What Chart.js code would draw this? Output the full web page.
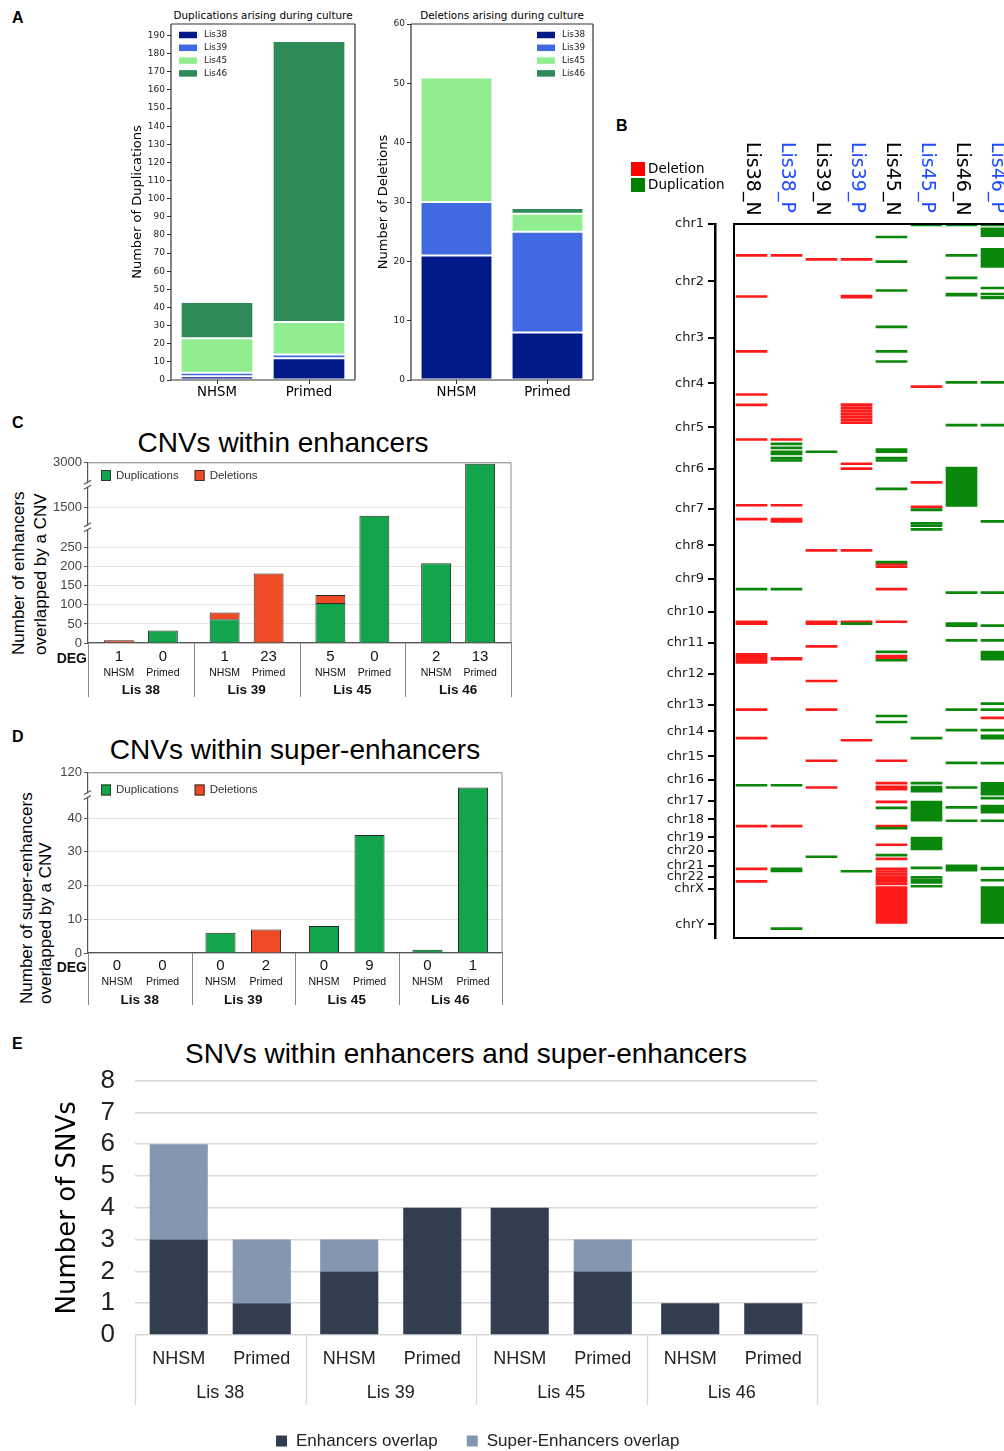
<!DOCTYPE html>
<html><head><meta charset="utf-8"><title>CNVs and SNVs</title>
<script src="https://cdn.jsdelivr.net/npm/chart.js@4.4.1/dist/chart.umd.min.js"></script>
<style>
html,body{margin:0;padding:0;background:#fff;width:1004px;height:1451px;overflow:hidden;position:relative;}
canvas{position:absolute;}
.t{position:absolute;white-space:nowrap;line-height:1;transform:translate(-50%,-50%);color:#000;}
.p{position:absolute;font:bold 16px 'Liberation Sans',Arial,sans-serif;line-height:1;color:#000;}
.vt{position:absolute;writing-mode:vertical-rl;transform:rotate(180deg);font:17px 'Liberation Sans',Arial,sans-serif;white-space:nowrap;text-align:start;color:#000;}
</style></head><body>
<div class="p" style="left:12px;top:10px">A</div>
<div class="p" style="left:616px;top:118px">B</div>
<div class="p" style="left:12px;top:415px">C</div>
<div class="p" style="left:12px;top:729px">D</div>
<div class="p" style="left:12px;top:1036px">E</div>
<div class="t" style="left:263px;top:15px;font:10.4px 'DejaVu Sans'">Duplications arising during culture</div>
<div class="t" style="left:502px;top:15px;font:10.4px 'DejaVu Sans'">Deletions arising during culture</div>
<div class="t" style="left:283px;top:443px;font:28px 'Liberation Sans'">CNVs within enhancers</div>
<div class="t" style="left:295px;top:750px;font:28px 'Liberation Sans'">CNVs within super-enhancers</div>
<div class="t" style="left:466px;top:1054px;font:28px 'Liberation Sans'">SNVs within enhancers and super-enhancers</div>
<div class="vt" style="left:8px;top:453px;height:202px;line-height:22px;">Number of enhancers<br>overlapped by a CNV</div>
<div class="vt" style="left:17px;top:777px;height:227px;line-height:19px;">Number of super-enhancers<br>overlapped by a CNV</div>
<canvas id="a1" width="250" height="400" style="left:120px;top:0px"></canvas>
<canvas id="a2" width="240" height="400" style="left:370px;top:0px"></canvas>
<canvas id="b" width="400" height="820" style="left:620px;top:130px"></canvas>
<canvas id="c" width="520" height="252" style="left:0px;top:453px"></canvas>
<canvas id="d" width="510" height="252" style="left:0px;top:763px"></canvas>
<canvas id="e" width="790" height="386" style="left:40px;top:1065px"></canvas>
<script>
// ================= DATA =================
// Panel A
const aCats = ['NHSM', 'Primed'];
const aLines = ['Lis38', 'Lis39', 'Lis45', 'Lis46'];
const dupLis38 = [2, 12];
const dupLis39 = [2, 2];
const dupLis45 = [19, 18];
const dupLis46 = [20, 155];
const delLis38 = [21, 8];
const delLis39 = [9, 17];
const delLis45 = [21, 3];
const delLis46 = [0, 1];
const aDupTicks = [0, 10, 20, 30, 40, 50, 60, 70, 80, 90, 100, 110, 120, 130, 140, 150, 160, 170, 180, 190];
const aDelTicks = [0, 10, 20, 30, 40, 50, 60];

// Panel B (positions in Mb along the concatenated genome; a number = small CNV, a pair = long CNV)
const cnvColumns = ['Lis38_N', 'Lis38_P', 'Lis39_N', 'Lis39_P', 'Lis45_N', 'Lis45_P', 'Lis46_N', 'Lis46_P'];
const chromNames = ['chr1','chr2','chr3','chr4','chr5','chr6','chr7','chr8','chr9','chr10','chr11','chr12','chr13','chr14','chr15','chr16','chr17','chr18','chr19','chr20','chr21','chr22','chrX','chrY'];
const chromStarts = [0, 249.3, 492.5, 690.5, 881.7, 1062.6, 1233.7, 1392.9, 1539.3, 1680.5, 1816.0, 1951.0, 2084.9, 2200.1, 2307.5, 2410.0, 2500.4, 2581.6, 2659.6, 2718.7, 2781.7, 2829.8, 2881.1, 3036.4];
const genomeEnd = 3095.7;
const lis38N_del = [133, 311, 549, 736, 781, 931, 1216, 1276, 1721, 1729, 1862, 1871, 1879, 1888, 1897, 2102, 2226, 2607, 2793, 2847];
const lis38N_dup = [1580, 2430];
const lis38P_del = [133, 931, 1216, 1276, 1286, [1879, 1891], 2607];
const lis38P_dup = [950, 967, 984, 993, 1012, 1022, 1580, 2430, 2793, 2802, 3052];
const lis39N_del = [150, 1412, 1721, 1729, 1828, 1978, 2102, 2324, 2440];
const lis39N_dup = [984, 2740];
const lis39P_del = [150, [308, 322], 780, 793, 806, 819, 832, 845, 858, 1036, 1057, 1412, 1721, 2235];
const lis39P_dup = [1729, 2803];
const lis45N_del = [1471, 1482, 1580, 1721, 1870, 1880, 2324, 2421, 2437, 2447, 2502, 2607, 2688, 2749, 2793, 2804, 2815, 2826, 2837, 2847, 2858, [2873, 3032]];
const lis45N_dup = [53, 160, 285, 443, 549, 593, 975, 984, 1012, 1022, 1145, 1463, 1852, 1888, 2130, 2156, 2528, 2616, 2733];
const lis45P_del = [702, 1117, 1223];
const lis45P_dup = [[0, 4], [1234, 1244], 1295, 1305, 1321, 2226, 2421, 2438, 2448, 2456, [2502, 2589], [2658, 2714], 2788, 2829, 2840, 2851, 2868];
const lis46N_del = [];
const lis46N_dup = [[0, 4], 133, 230, [299, 313], 683, 869, [1054, 1224], 1595, 1729, 1738, 1802, 2102, 2191, 2333, 2440, 2526, 2584, 2779, 2788, 2798];
const lis46P_del = [2138];
const lis46P_dup = [[0, 4], [17, 55], [105, 188], 274, [299, 306], [314, 325], 683, 869, 1286, 1595, 1738, 1802, [1852, 1891], 2076, 2102, 2191, 2216, 2226, [2333, 2342], [2421, 2476], 2486, [2519, 2555], 2584, [2788, 2801], 2842, [2873, 3032]];
const cnvDel = [lis38N_del, lis38P_del, lis39N_del, lis39P_del, lis45N_del, lis45P_del, lis46N_del, lis46P_del];
const cnvDup = [lis38N_dup, lis38P_dup, lis39N_dup, lis39P_dup, lis45N_dup, lis45P_dup, lis46N_dup, lis46P_dup];

// Panel C
const lisGroups = ['Lis 38', 'Lis 39', 'Lis 45', 'Lis 46'];
const cDupNHSM = [0, 62, 105, 209];
const cDelNHSM = [7, 18, 21, 0];
const cDupPrimed = [33, 0, 1250, 2970];
const cDelPrimed = [0, 182, 0, 0];
const cDegNHSM = [1, 1, 5, 2];
const cDegPrimed = [0, 23, 0, 13];
const cTicks = [0, 50, 100, 150, 200, 250, 1500, 3000];

// Panel D
const dDupNHSM = [0, 6, 8, 1];
const dDelNHSM = [0, 0, 0, 0];
const dDupPrimed = [0, 0, 35, 94];
const dDelPrimed = [0, 7, 0, 0];
const dDegNHSM = [0, 0, 0, 0];
const dDegPrimed = [0, 2, 9, 1];
const dTicks = [0, 10, 20, 30, 40, 120];

// Panel E
const eEnhNHSM = [3, 2, 4, 1];
const eSupNHSM = [3, 1, 0, 0];
const eEnhPrimed = [1, 4, 2, 1];
const eSupPrimed = [2, 0, 1, 0];
const eTicks = [0, 1, 2, 3, 4, 5, 6, 7, 8];

// ================= HELPERS =================
const F_DV = "'DejaVu Sans', sans-serif";
const F_LS = "'Liberation Sans', Arial, sans-serif";
Chart.defaults.font.family = F_LS;

class BrokenScale extends Chart.LinearScale {
  static id = 'broken';
  static defaults = {};
  determineDataLimits() {
    const v = this.options.pieceValues;
    this.min = v[0];
    this.max = v[v.length - 1];
  }
  buildTicks() { return this.options.tickValues.map(value => ({ value })); }
  _toDecimal(value) {
    const v = this.options.pieceValues, f = this.options.pieceFracs;
    let i = 1;
    while (i < v.length - 1 && value > v[i]) i++;
    return f[i - 1] + (value - v[i - 1]) / (v[i] - v[i - 1]) * (f[i] - f[i - 1]);
  }
  getPixelForValue(value) {
    if (value === null || value === undefined || isNaN(value)) return NaN;
    return this.getPixelForDecimal(this._toDecimal(value));
  }
  getValueForPixel(pixel) {
    const d = this.getDecimalForPixel(pixel);
    const v = this.options.pieceValues, f = this.options.pieceFracs;
    let i = 1;
    while (i < f.length - 1 && d > f[i]) i++;
    return v[i - 1] + (d - f[i - 1]) / (f[i] - f[i - 1]) * (v[i] - v[i - 1]);
  }
}
Chart.register(BrokenScale);

const framePlugin = {
  id: 'frame',
  afterDraw(chart, args, o) {
    if (!o.color) return;
    const { ctx, chartArea: a } = chart;
    const s = o.sides;
    ctx.save();
    ctx.strokeStyle = o.color; ctx.lineWidth = o.width;
    ctx.beginPath();
    if (s.includes('top')) { ctx.moveTo(a.left, a.top); ctx.lineTo(a.right, a.top); }
    if (s.includes('right')) { ctx.moveTo(a.right, a.top); ctx.lineTo(a.right, a.bottom); }
    if (s.includes('bottom')) { ctx.moveTo(a.left, a.bottom); ctx.lineTo(a.right, a.bottom); }
    if (s.includes('left')) { ctx.moveTo(a.left, a.top); ctx.lineTo(a.left, a.bottom); }
    ctx.stroke();
    ctx.restore();
  }
};

const boxLegendPlugin = {
  id: 'boxLegend',
  afterDraw(chart, args, o) {
    if (!o.labels) return;
    const ctx = chart.ctx;
    ctx.save();
    ctx.font = o.font; ctx.textBaseline = 'middle'; ctx.textAlign = 'left';
    let x = o.x, y = o.y;
    o.labels.forEach((txt, i) => {
      ctx.fillStyle = o.colors[i];
      ctx.fillRect(x, y - o.h / 2, o.w, o.h);
      if (o.stroke) { ctx.strokeStyle = o.stroke; ctx.lineWidth = 1; ctx.strokeRect(x + 0.5, y - o.h / 2 + 0.5, o.w - 1, o.h - 1); }
      ctx.fillStyle = o.textColor || '#000';
      ctx.fillText(txt, x + o.w + o.gap, y);
      if (o.flow) x += o.w + o.gap + ctx.measureText(txt).width + o.sep; else y += o.dy;
    });
    ctx.restore();
  }
};

const groupLabelPlugin = {
  id: 'groupLabels',
  afterDraw(chart, args, o) {
    if (!o.subY) return;
    const { ctx, chartArea: a } = chart;
    const xs = chart.scales.x;
    const b = a.bottom;
    const n = chart.data.labels.length;
    ctx.save();
    ctx.strokeStyle = o.sepColor; ctx.lineWidth = o.sepWidth;
    for (let i = 0; i <= n; i++) {
      const x = Math.round(xs.getPixelForValue(i - 0.5)) + 0.5;
      ctx.beginPath(); ctx.moveTo(x, b); ctx.lineTo(x, b + o.sepLen); ctx.stroke();
    }
    ctx.fillStyle = o.color; ctx.textAlign = 'center'; ctx.textBaseline = 'middle';
    const metaN = chart.getDatasetMeta(o.nIdx), metaP = chart.getDatasetMeta(o.pIdx);
    const subN = chart.data.datasets[o.nIdx].stack, subP = chart.data.datasets[o.pIdx].stack;
    for (let g = 0; g < n; g++) {
      const xn = metaN.data[g].x, xp = metaP.data[g].x;
      if (o.degN) {
        ctx.font = o.degFont;
        ctx.fillText(String(o.degN[g]), xn, b + o.degY);
        ctx.fillText(String(o.degP[g]), xp, b + o.degY);
      }
      ctx.font = o.subFont;
      ctx.fillText(subN, xn, b + o.subY);
      ctx.fillText(subP, xp, b + o.subY);
      ctx.font = o.groupFont;
      ctx.fillText(chart.data.labels[g], xs.getPixelForValue(g), b + o.groupY);
    }
    if (o.degLabel) {
      ctx.font = o.degLabelFont; ctx.textAlign = 'right';
      ctx.fillText(o.degLabel, a.left - 1, b + o.degLabelY);
    }
    ctx.restore();
  }
};

const breakPlugin = {
  id: 'breaks',
  afterDraw(chart, args, o) {
    if (!o.between) return;
    const { ctx, chartArea: a } = chart;
    const ys = chart.scales.y, x = a.left;
    ctx.save();
    for (const pair of o.between) {
      const y = (ys.getPixelForValue(pair[0]) + ys.getPixelForValue(pair[1])) / 2;
      ctx.fillStyle = '#fff'; ctx.fillRect(x - 3, y - 2, 6, 4);
      ctx.strokeStyle = o.color; ctx.lineWidth = 1.2;
      ctx.beginPath();
      ctx.moveTo(x - 4, y - 1); ctx.lineTo(x + 3, y - 5);
      ctx.moveTo(x - 4, y + 4); ctx.lineTo(x + 3, y);
      ctx.stroke();
    }
    ctx.restore();
  }
};

const cnvFramePlugin = {
  id: 'cnvFrame',
  afterDraw(chart, args, o) {
    if (!o.labels) return;
    const { ctx, chartArea: a } = chart;
    const xs = chart.scales.x;
    const l = xs.getPixelForValue(o.from), r = xs.getPixelForValue(o.to);
    ctx.save();
    ctx.strokeStyle = '#000'; ctx.lineWidth = 2;
    ctx.strokeRect(l, a.top, r - l, a.bottom - a.top);
    ctx.font = o.font; ctx.textBaseline = 'middle'; ctx.textAlign = 'left';
    o.labels.forEach((lab, i) => {
      ctx.save();
      ctx.translate(xs.getPixelForValue(i), a.top - o.gap);
      ctx.rotate(Math.PI / 2);
      ctx.fillStyle = o.colors[i % 2];
      ctx.fillText(lab, 0, 0);
      ctx.restore();
    });
    ctx.restore();
  }
};

const noPlug = { legend: { display: false }, tooltip: { enabled: false } };
const lineColors = ['#001a88', '#4169e1', '#90ee90', '#2e8b57'];

// ================= PANEL A =================
function panelA(id, series, topValue, ticks, yTitle, yWidth, titlePad, padRight, legendX) {
  new Chart(document.getElementById(id), {
    type: 'bar',
    data: {
      labels: aCats,
      datasets: aLines.map((l, i) => ({ label: l, data: series[i], backgroundColor: lineColors[i], borderColor: '#ffffff', borderWidth: 1, borderSkipped: false }))
    },
    options: {
      animation: false, responsive: false,
      layout: { padding: { top: 24, right: padRight, bottom: 0, left: 0 } },
      datasets: { bar: { categoryPercentage: 1, barPercentage: 0.79 } },
      plugins: Object.assign({}, noPlug, {
        frame: { color: '#333', width: 1.2, sides: ['top', 'right', 'bottom', 'left'] },
        boxLegend: { labels: aLines, colors: lineColors, x: legendX, y: 35, dy: 12.8, w: 18, h: 6.5, gap: 7, font: "8.8px 'DejaVu Sans'", textColor: '#222' }
      }),
      scales: {
        x: {
          stacked: true,
          grid: { display: true, offset: false, drawOnChartArea: false, drawTicks: true, tickLength: 4, color: '#333' },
          border: { display: false },
          ticks: { font: { family: F_DV, size: 13.3 }, color: '#000', padding: 1 },
          afterFit: s => { s.height = 20; }
        },
        y: {
          type: 'broken', stacked: true,
          pieceValues: [0, topValue], pieceFracs: [0, 1], tickValues: ticks,
          ticks: { autoSkip: false, font: { family: F_DV, size: 9 }, color: '#222', padding: 2, callback: v => String(v) },
          grid: { drawOnChartArea: false, drawTicks: true, tickLength: 4, color: '#333' },
          border: { display: false },
          title: { display: true, text: yTitle, font: { family: F_DV, size: 13 }, color: '#000', padding: { top: titlePad, bottom: 0 } },
          afterFit: s => { s.width = yWidth; }
        }
      }
    },
    plugins: [framePlugin, boxLegendPlugin]
  });
}
panelA('a1', [dupLis38, dupLis39, dupLis45, dupLis46], 196.35, aDupTicks, 'Number of Duplications', 51, 10, 15, 59);
panelA('a2', [delLis38, delLis39, delLis45, delLis46], 60, aDelTicks, 'Number of Deletions', 41, 6.2, 17, 167);

// ================= PANEL B =================
function toBars(lists) {
  const pts = [];
  lists.forEach((list, col) => {
    list.forEach(p => {
      pts.push({ x: col, y: Array.isArray(p) ? p : [p - 1, p + 1] });
    });
  });
  return pts;
}
new Chart(document.getElementById('b'), {
  type: 'bar',
  data: {
    datasets: [
      { label: 'Duplication', data: toBars(cnvDup), backgroundColor: '#0a870a' },
      { label: 'Deletion', data: toBars(cnvDel), backgroundColor: '#ff1a1a' }
    ]
  },
  options: {
    animation: false, responsive: false,
    layout: { padding: { top: 94, right: 6, bottom: 12, left: 0 } },
    datasets: { bar: { grouped: false, barThickness: 31, minBarLength: 2, borderWidth: 0 } },
    plugins: Object.assign({}, noPlug, {
      boxLegend: { labels: ['Deletion', 'Duplication'], colors: ['#ff0000', '#008000'], x: 11, y: 39, dy: 16, w: 14, h: 14, gap: 3, font: "13.5px 'DejaVu Sans'", textColor: '#000' },
      cnvFrame: { labels: cnvColumns, colors: ['#000000', '#1f4dff'], from: -0.5, to: 7.5, gap: 82, font: "19px 'DejaVu Sans'" }
    }),
    scales: {
      x: { type: 'linear', min: -1.043, max: 7.5, offset: false, display: false },
      y: {
        type: 'broken', reverse: true,
        pieceValues: [0, genomeEnd], pieceFracs: [0, 1], tickValues: chromStarts,
        ticks: { autoSkip: false, callback: (v, i) => chromNames[i], font: { family: F_DV, size: 13 }, color: '#222', padding: 4 },
        grid: { drawOnChartArea: false, drawTicks: true, tickLength: 7, lineWidth: 2, color: '#000' },
        border: { display: true, width: 2.5, color: '#000' },
        afterFit: s => { s.width = 95; }
      }
    }
  },
  plugins: [boxLegendPlugin, cnvFramePlugin]
});

// ================= PANELS C & D =================
const cnvGreen = '#12a54c', cnvRed = '#ee4a25';
function panelCD(id, dupN, delN, dupP, delP, degN, degP, pieces, fracs, ticks, breaks, padRight, lab) {
  new Chart(document.getElementById(id), {
    type: 'bar',
    data: {
      labels: lisGroups,
      datasets: [
        { label: 'Duplications', stack: 'NHSM', data: dupN, backgroundColor: cnvGreen },
        { label: 'Deletions', stack: 'NHSM', data: delN, backgroundColor: cnvRed },
        { label: 'Duplications', stack: 'Primed', data: dupP, backgroundColor: cnvGreen },
        { label: 'Deletions', stack: 'Primed', data: delP, backgroundColor: cnvRed }
      ]
    },
    options: {
      animation: false, responsive: false,
      layout: { padding: { top: 0, right: padRight, bottom: 8, left: 0 } },
      datasets: { bar: { categoryPercentage: lab.cat, barPercentage: lab.bar, borderWidth: 1, borderColor: '#2a2a2a' } },
      plugins: Object.assign({}, noPlug, {
        frame: { color: '#8a8a8a', width: 1, sides: ['top', 'right'] },
        breaks: { between: breaks, color: '#555' },
        boxLegend: { labels: ['Duplications', 'Deletions'], colors: [cnvGreen, cnvRed], stroke: '#333', x: 101, y: lab.legY, w: 10, h: 11, gap: 5, flow: true, sep: 16, font: "11.5px 'Liberation Sans'", textColor: '#333' },
        groupLabels: {
          nIdx: 0, pIdx: 2, sepColor: '#888', sepWidth: 1, sepLen: lab.sepLen, color: '#111',
          degN: degN, degP: degP, degFont: "15px 'Liberation Sans'", degY: lab.degY,
          subFont: "10.5px 'Liberation Sans'", subY: lab.subY,
          groupFont: "bold 13.5px 'Liberation Sans'", groupY: 47,
          degLabel: 'DEG', degLabelFont: "bold 14px 'Liberation Sans'", degLabelY: lab.degY + 2
        }
      }),
      scales: {
        x: {
          stacked: true,
          ticks: { display: false },
          grid: { display: false },
          border: { display: true, color: '#555', width: 1.2 },
          afterFit: s => { s.height = 54; }
        },
        y: {
          type: 'broken', stacked: true,
          pieceValues: pieces, pieceFracs: fracs, tickValues: ticks,
          ticks: { autoSkip: false, font: { family: F_LS, size: 13 }, color: '#444', padding: 2, callback: v => String(v) },
          grid: { color: '#e4e4e4', drawTicks: true, tickLength: 4, tickColor: '#555' },
          border: { display: true, color: '#555', width: 1.2 },
          afterFit: s => { s.width = 88; }
        }
      }
    },
    plugins: [framePlugin, breakPlugin, boxLegendPlugin, groupLabelPlugin]
  });
}
panelCD('c', cDupNHSM, cDelNHSM, cDupPrimed, cDelPrimed, cDegNHSM, cDegPrimed,
  [0, 250, 1500, 3000], [0, 0.529, 0.751, 1], cTicks, [[250, 1500], [1500, 3000]], 9,
  { cat: 0.832, bar: 0.68, legY: 22.5, sepLen: 54, degY: 14, subY: 30 });
panelCD('d', dDupNHSM, dDelNHSM, dDupPrimed, dDelPrimed, dDegNHSM, dDegPrimed,
  [0, 40, 120], [0, 0.749, 1], dTicks, [[40, 120]], 8,
  { cat: 0.88, bar: 0.66, legY: 27, sepLen: 52, degY: 13, subY: 29 });

// ================= PANEL E =================
const enhDark = '#333d50', supLight = '#8497b0';
new Chart(document.getElementById('e'), {
  type: 'bar',
  data: {
    labels: lisGroups,
    datasets: [
      { label: 'Enhancers overlap', stack: 'NHSM', data: eEnhNHSM, backgroundColor: enhDark },
      { label: 'Super-Enhancers overlap', stack: 'NHSM', data: eSupNHSM, backgroundColor: supLight },
      { label: 'Enhancers overlap', stack: 'Primed', data: eEnhPrimed, backgroundColor: enhDark },
      { label: 'Super-Enhancers overlap', stack: 'Primed', data: eSupPrimed, backgroundColor: supLight }
    ]
  },
  options: {
    animation: false, responsive: false,
    layout: { padding: { top: 0, right: 13, bottom: 0, left: 0 } },
    datasets: { bar: { categoryPercentage: 0.974, barPercentage: 0.70, borderWidth: 0 } },
    plugins: Object.assign({}, noPlug, {
      boxLegend: { labels: ['Enhancers overlap', 'Super-Enhancers overlap'], colors: [enhDark, supLight], x: 236, y: 376, w: 11, h: 11, gap: 9, flow: true, sep: 29, font: "17px 'Liberation Sans'", textColor: '#222' },
      groupLabels: {
        nIdx: 0, pIdx: 2, sepColor: '#d9d9d9', sepWidth: 1.3, sepLen: 70, color: '#222',
        subFont: "18px 'Liberation Sans'", subY: 24,
        groupFont: "18px 'Liberation Sans'", groupY: 58
      }
    }),
    scales: {
      x: {
        stacked: true,
        ticks: { display: false },
        grid: { display: false },
        border: { display: false },
        afterFit: s => { s.height = 116; }
      },
      y: {
        type: 'broken', stacked: true,
        pieceValues: [0, 8], pieceFracs: [0, 1], tickValues: eTicks,
        ticks: { autoSkip: false, font: { family: F_LS, size: 26 }, color: '#222', padding: 0, callback: v => String(v) },
        grid: { color: '#d9d9d9', lineWidth: 1.5, drawTicks: true, tickLength: 20, tickColor: 'rgba(0,0,0,0)' },
        border: { display: false },
        title: { display: true, text: 'Number of SNVs', font: { family: F_DV, size: 26 }, color: '#000', padding: { top: 12.4, bottom: 0 } },
        afterFit: s => { s.width = 95; }
      }
    }
  },
  plugins: [boxLegendPlugin, groupLabelPlugin]
});
</script>
</body></html>
